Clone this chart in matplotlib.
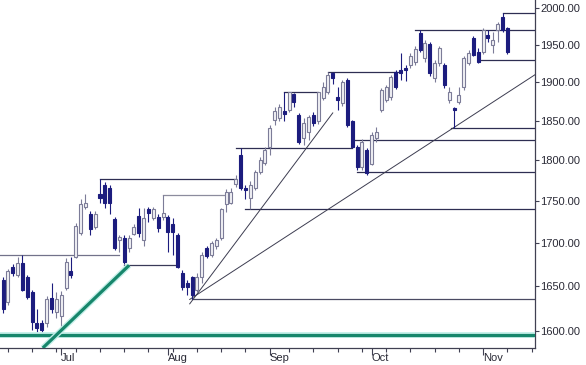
import pandas as pd
import matplotlib
matplotlib.use("Agg")
import matplotlib.pyplot as plt
import matplotlib.patheffects as pe
from matplotlib.patches import Rectangle
from matplotlib.ticker import FixedLocator, FuncFormatter

plt.rcParams['font.family'] = ['Liberation Sans', 'DejaVu Sans']

# daily sessions, 13 Jun -> 10 Nov 2003
opens = [1657, 1632, 1672, 1663, 1677, 1660, 1643, 1609, 1609, 1609,
         1637, 1621, 1616, 1648, 1667, 1684, 1712, 1743, 1734, 1719,
         1758, 1770, 1766, 1729, 1704, 1706, 1694, 1711, 1732, 1704,
         1740, 1730, 1731, 1731, 1731, 1722, 1710, 1665, 1654, 1660,
         1646, 1661, 1694, 1686, 1697, 1706, 1746, 1748, 1771, 1807,
         1766, 1754, 1766, 1786, 1797, 1817, 1851, 1854, 1862, 1864,
         1884, 1857, 1828, 1836, 1857, 1849, 1879, 1887, 1912, 1881,
         1873, 1903, 1849, 1817, 1792, 1813, 1796, 1828, 1864, 1877,
         1880, 1913, 1916, 1919, 1923, 1926, 1966, 1932, 1951, 1905,
         1925, 1923, 1877, 1866, 1874, 1893, 1925, 1959, 1940, 1940,
         1963, 1949, 1970, 1988, 1973]
highs = [1661, 1670, 1676, 1684, 1686, 1663, 1646, 1624, 1612, 1639,
         1654, 1643, 1644, 1682, 1684, 1724, 1752, 1758, 1738, 1738,
         1777, 1773, 1769, 1731, 1710, 1709, 1710, 1722, 1742, 1742,
         1743, 1743, 1735, 1757, 1733, 1730, 1712, 1669, 1657, 1662,
         1665, 1689, 1697, 1702, 1706, 1742, 1765, 1766, 1782, 1815,
         1770, 1774, 1788, 1804, 1817, 1845, 1867, 1872, 1887, 1887,
         1886, 1860, 1854, 1857, 1861, 1887, 1900, 1914, 1914, 1893,
         1903, 1905, 1851, 1819, 1827, 1816, 1835, 1842, 1892, 1896,
         1909, 1916, 1939, 1923, 1938, 1948, 1970, 1956, 1954, 1929,
         1948, 1925, 1894, 1868, 1893, 1934, 1943, 1962, 1945, 1972,
         1970, 1967, 1981, 1993, 1974]
lows = [1620, 1629, 1662, 1660, 1644, 1635, 1601, 1599, 1597, 1604,
        1620, 1614, 1597, 1646, 1659, 1682, 1709, 1740, 1709, 1716,
        1748, 1742, 1734, 1692, 1690, 1675, 1689, 1709, 1707, 1696,
        1725, 1727, 1713, 1727, 1690, 1686, 1671, 1646, 1640, 1636,
        1643, 1654, 1683, 1684, 1693, 1704, 1737, 1746, 1767, 1764,
        1752, 1741, 1764, 1783, 1794, 1807, 1845, 1850, 1850, 1861,
        1867, 1821, 1819, 1826, 1843, 1846, 1877, 1885, 1897, 1864,
        1869, 1842, 1815, 1788, 1788, 1782, 1794, 1823, 1861, 1874,
        1877, 1891, 1903, 1902, 1919, 1923, 1940, 1927, 1908, 1900,
        1921, 1892, 1873, 1841, 1872, 1890, 1923, 1934, 1925, 1937,
        1954, 1939, 1954, 1967, 1937]
closes = [1624, 1667, 1665, 1677, 1646, 1638, 1610, 1603, 1601, 1635,
          1624, 1635, 1640, 1678, 1663, 1720, 1747, 1748, 1716, 1735,
          1754, 1748, 1748, 1694, 1707, 1678, 1706, 1719, 1712, 1730,
          1736, 1741, 1718, 1736, 1713, 1713, 1672, 1649, 1649, 1640,
          1661, 1686, 1685, 1700, 1703, 1740, 1761, 1761, 1777, 1766,
          1764, 1770, 1786, 1801, 1813, 1841, 1863, 1868, 1858, 1887,
          1874, 1823, 1847, 1855, 1847, 1887, 1894, 1910, 1906, 1877,
          1900, 1845, 1817, 1792, 1823, 1784, 1832, 1836, 1890, 1894,
          1907, 1894, 1912, 1916, 1934, 1944, 1943, 1952, 1912, 1925,
          1945, 1896, 1887, 1864, 1883, 1932, 1939, 1936, 1927, 1970,
          1959, 1956, 1978, 1970, 1940]

# horizontal support / resistance levels: start session, end session (None = right edge), price
level_price = [1686, 1777, 1757, 1815, 1741, 1636, 1674, 1887, 1913, 1970, 1993, 1929, 1841, 1825, 1786]
level_start = [-1, 20, 33, 48, 50, 39, 25, 58, 67, 85, 103, 98, 92.3, 72, 73]
level_end = [24, 48, 46, 72, None, None, 36, 65, 81.5, None, None, None, None, None, None]

# trend lines (session, price) -> (session, price)
trend_from = [(38.5, 1630), (38.5, 1635)]
trend_to = [(68, 1860), (110, 1911)]

# green support lines
green_diag = [(8.2, 1581), (26, 1674)]
green_flat = 1595

y_ticks = [1600, 1650, 1700, 1750, 1800, 1850, 1900, 1950, 2000]

# trading calendar (a few sessions past the data for the empty right margin)
days = pd.bdate_range('2003-06-13', '2003-11-21', freq='C', holidays=['2003-07-04', '2003-09-01'])

fig = plt.figure(figsize=(5.86, 3.65), dpi=100)
ax = fig.add_axes([0, 17 / 365, 535 / 586, 348 / 365])
ax.set_yscale('log')

up_face, up_edge = '#f2f2f6', '#7c7c98'
down_col = '#1c1c7e'
w = 0.62
for i in range(len(opens)):
    o, h, l, c = opens[i], highs[i], lows[i], closes[i]
    col = up_edge if c >= o else down_col
    ax.vlines(i, l, h, color=col, lw=0.8, zorder=3)
    bot, top = min(o, c), max(o, c)
    if top - bot < 1.5:  # doji-ish, keep it visible
        top = bot + 1.5
    if c >= o:
        ax.add_patch(Rectangle((i - w / 2, bot), w, top - bot, facecolor=up_face, edgecolor=up_edge, lw=0.8, zorder=4))
    else:
        ax.add_patch(Rectangle((i - w / 2, bot), w, top - bot, facecolor=down_col, edgecolor=down_col, lw=0.8, zorder=4))

x_right = 109.7
level_cols = ['#72728a', '#2e2e52', '#8c8c9e', '#2e2e52', '#2e2e52', '#4a4a62', '#3a3a58', '#2e2e52',
              '#2e2e52', '#2e2e52', '#2e2e52', '#2e2e52', '#2e2e52', '#2e2e52', '#2e2e52']
for p, s, e, col in zip(level_price, level_start, level_end, level_cols):
    ax.plot([s, x_right + 1 if e is None else e], [p, p], color=col, lw=0.9, zorder=2)

for (x0, p0), (x1, p1) in zip(trend_from, trend_to):
    ax.plot([x0, x1], [p0, p1], color='#3c3c50', lw=0.7, zorder=2)

halo = [pe.withStroke(linewidth=4.2, foreground='#c4efe9')]
ax.axhline(green_flat, color='#17866b', lw=2.3, zorder=5, path_effects=halo)
ax.plot([green_diag[0][0], green_diag[1][0]], [green_diag[0][1], green_diag[1][1]],
        color='#17866b', lw=2.3, zorder=5, path_effects=halo, solid_capstyle='butt')

ax.set_xlim(-0.62, x_right)
ax.set_ylim(1581, 2011)

# right hand price axis
ax.yaxis.tick_right()
ax.yaxis.set_major_locator(FixedLocator(y_ticks))
ax.yaxis.set_major_formatter(FuncFormatter(lambda v, pos: '%.2f' % v))
ax.yaxis.set_minor_locator(FixedLocator([]))
ax.tick_params(axis='y', which='major', direction='out', length=3, width=0.8, color='#404052',
               labelsize=8, labelcolor='#2a2a36', pad=1)

# months (major) and weeks (minor) on the bottom axis
pos = list(range(len(days)))
month_pos = [i for i in pos if i == 0 or days[i].month != days[i - 1].month][1:]
week_pos = [i for i in pos if i > 0 and days[i].weekday() < days[i - 1].weekday() and i not in month_pos]
ax.xaxis.set_major_locator(FixedLocator(month_pos))
ax.xaxis.set_major_formatter(FuncFormatter(lambda v, p: days[int(round(v))].strftime('%b')))
ax.xaxis.set_minor_locator(FixedLocator(week_pos))
ax.tick_params(axis='x', which='major', direction='out', length=5, width=0.8, color='#404052',
               labelsize=8, labelcolor='#2a2a36', pad=-1.5)
ax.tick_params(axis='x', which='minor', direction='out', length=3, width=0.8, color='#404052')
for lab in ax.get_xticklabels():
    lab.set_horizontalalignment('left')

for side in ['left', 'top']:
    ax.spines[side].set_visible(False)
for side in ['right', 'bottom']:
    ax.spines[side].set_color('#404052')
    ax.spines[side].set_linewidth(0.9)

fig.savefig('out.png', dpi=100)
